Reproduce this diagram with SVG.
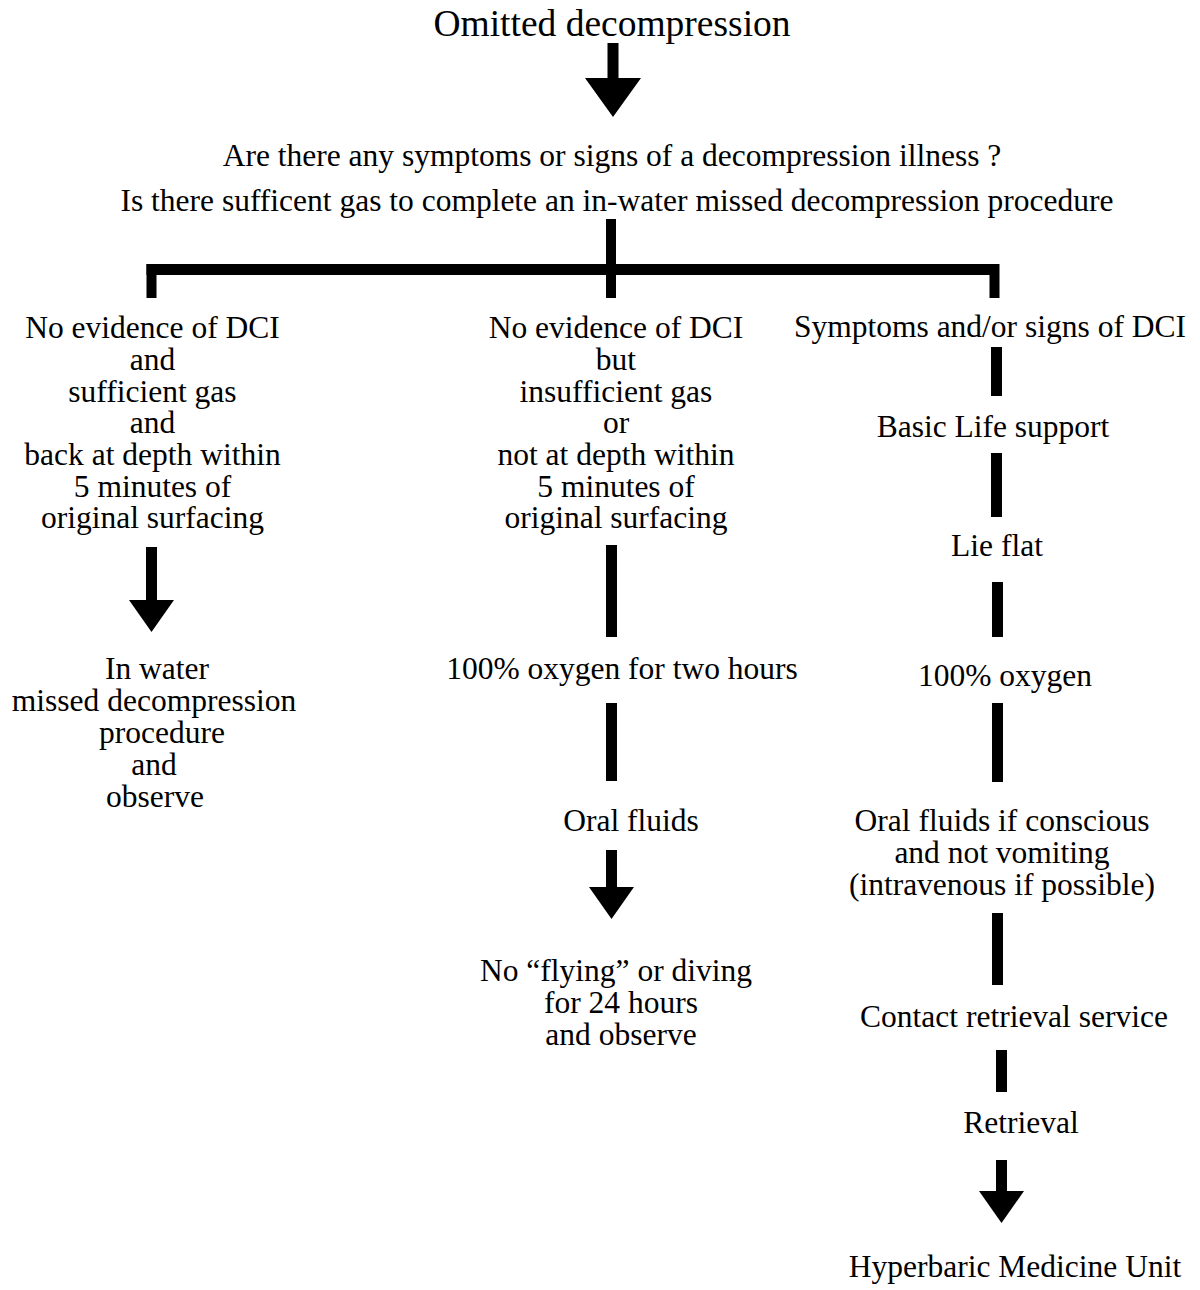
<svg xmlns="http://www.w3.org/2000/svg" width="1200" height="1290" viewBox="0 0 1200 1290">
<style>
text{font-family:"Liberation Serif","Times New Roman",serif;fill:#000;text-anchor:middle;font-size:31.5px}
.title{font-size:37.5px}
.bar{fill:#000}
</style>
<rect width="1200" height="1290" fill="#fff"/>
<g id="connectors">
<polygon class="bar" points="607.5,43 618.5,43 618.5,78 641,78 613,117 585,78 607.5,78"/>
<rect class="bar" x="606" y="219" width="10" height="79"/>
<rect class="bar" x="146.5" y="264" width="852.5" height="11"/>
<rect class="bar" x="146.5" y="264" width="10" height="34"/>
<rect class="bar" x="989.5" y="264" width="10" height="34"/>
<polygon class="bar" points="146,547 157,547 157,600 174,600 151.5,632 129,600 146,600"/>
<rect class="bar" x="606" y="545" width="11" height="92"/>
<rect class="bar" x="606" y="703" width="11" height="78"/>
<polygon class="bar" points="606,850 617,850 617,887 634,887 611.5,919 589,887 606,887"/>
<rect class="bar" x="991" y="347" width="11" height="49"/>
<rect class="bar" x="991" y="453" width="11" height="64"/>
<rect class="bar" x="992" y="582" width="11" height="55"/>
<rect class="bar" x="992" y="703" width="11" height="79"/>
<rect class="bar" x="992" y="913" width="11" height="72"/>
<rect class="bar" x="996" y="1050" width="11" height="42"/>
<polygon class="bar" points="996,1160 1007,1160 1007,1191 1024,1191 1001.5,1223 979,1191 996,1191"/>
</g>
<g id="title"><text class="title" x="612" y="36">Omitted decompression</text></g>
<g id="question">
<text x="612" y="166">Are there any symptoms or signs of a decompression illness ?</text>
<text x="617" y="211">Is there sufficent gas to complete an in-water missed decompression procedure</text>
</g>
<g id="left-condition">
<text x="152.5" y="338">No evidence of DCI</text>
<text x="152.5" y="370">and</text>
<text x="152.5" y="401.5">sufficient gas</text>
<text x="152.5" y="433">and</text>
<text x="152.5" y="465">back at depth within</text>
<text x="152.5" y="497">5 minutes of</text>
<text x="152.5" y="528">original surfacing</text>
</g>
<g id="left-action">
<text x="157" y="679">In water</text>
<text x="154" y="711">missed decompression</text>
<text x="162" y="743">procedure</text>
<text x="154" y="775">and</text>
<text x="155" y="807">observe</text>
</g>
<g id="middle-condition">
<text x="616" y="338">No evidence of DCI</text>
<text x="616" y="370">but</text>
<text x="616" y="401.5">insufficient gas</text>
<text x="616" y="433">or</text>
<text x="616" y="465">not at depth within</text>
<text x="616" y="497">5 minutes of</text>
<text x="616" y="528">original surfacing</text>
</g>
<g id="middle-oxygen"><text x="622" y="679">100% oxygen for two hours</text></g>
<g id="middle-fluids"><text x="631" y="831">Oral fluids</text></g>
<g id="middle-outcome">
<text x="616" y="981">No “flying” or diving</text>
<text x="621" y="1013">for 24 hours</text>
<text x="621" y="1045">and observe</text>
</g>
<g id="right-condition"><text x="990" y="337">Symptoms and/or signs of DCI</text></g>
<g id="right-bls"><text x="993" y="437">Basic Life support</text></g>
<g id="right-lie"><text x="997" y="556">Lie flat</text></g>
<g id="right-oxygen"><text x="1005" y="686">100% oxygen</text></g>
<g id="right-fluids">
<text x="1002" y="831">Oral fluids if conscious</text>
<text x="1002" y="863">and not vomiting</text>
<text x="1002" y="895">(intravenous if possible)</text>
</g>
<g id="right-contact"><text x="1014" y="1027">Contact retrieval service</text></g>
<g id="right-retrieval"><text x="1021" y="1133">Retrieval</text></g>
<g id="right-hmu"><text x="1015" y="1277">Hyperbaric Medicine Unit</text></g>
</svg>
